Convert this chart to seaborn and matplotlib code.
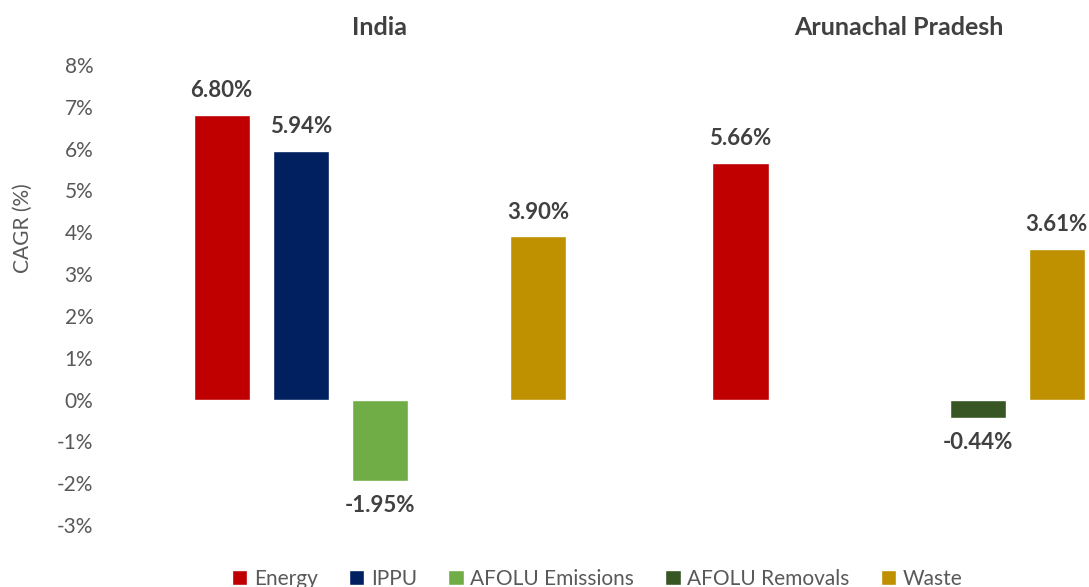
import numpy as np
import pandas as pd
import matplotlib.pyplot as plt
import seaborn as sns

# CAGR values (%); None = no bar
regions = ['India', 'Arunachal Pradesh']
sectors = ['Energy', 'IPPU', 'AFOLU Emissions', 'AFOLU Removals', 'Waste']
india = [6.80, 5.94, -1.95, None, 3.90]
arunachal = [5.66, None, None, -0.44, 3.61]
yticks = [-3, -2, -1, 0, 1, 2, 3, 4, 5, 6, 7, 8]

palette = {'Energy': '#C00000', 'IPPU': '#002060', 'AFOLU Emissions': '#70AD47',
           'AFOLU Removals': '#375623', 'Waste': '#BF9000'}

rows = []
for reg, vals in zip(regions, [india, arunachal]):
    for s, v in zip(sectors, vals):
        rows.append({'Region': reg, 'Sector': s, 'CAGR': v})
df = pd.DataFrame(rows).dropna()

sns.set_style('white')
plt.rcParams['font.family'] = ['Lato', 'DejaVu Sans']

fig = plt.figure(figsize=(10.89, 5.87), dpi=100)
W, H = 1089, 587
ax = fig.add_axes([110 / W, 1 - 525 / H, (W - 110) / W, (525 - 65) / H])

sns.barplot(data=df, x='Region', y='CAGR', hue='Sector', order=regions,
            hue_order=sectors, palette=palette, width=0.762, gap=0.29,
            errorbar=None, ax=ax, saturation=1)

# bar labels
for c in ax.containers:
    ax.bar_label(c, fmt='%.2f%%', padding=10, fontsize=16, fontweight='bold',
                 color='#404040')

ax.set_ylim(-3, 8)
ax.set_xlim(-0.52, 1.367)
ax.set_yticks(yticks)
ax.set_yticklabels([f'{t}%' for t in yticks])
ax.tick_params(axis='y', length=0, labelsize=15, labelcolor='#595959', pad=12)

# region names on top
ax.xaxis.tick_top()
ax.tick_params(axis='x', length=0, labelsize=18, labelcolor='#404040', pad=19)
for lab in ax.get_xticklabels():
    lab.set_fontweight('bold')
ax.set_xlabel('')

ax.set_ylabel('CAGR (%)', fontsize=15, color='#595959')
ax.yaxis.set_label_coords(-0.079, 0.646)

for sp in ax.spines.values():
    sp.set_visible(False)

handles, labels = ax.get_legend_handles_labels()
ax.legend(handles, labels, loc='center', bbox_to_anchor=(597 / W, 1 - 579 / H),
          bbox_transform=fig.transFigure, ncol=5, frameon=False, fontsize=15,
          handlelength=0.75, handleheight=0.75, handletextpad=0.3,
          columnspacing=1.5, labelcolor='#595959', borderpad=0)

fig.savefig('out.png', dpi=100)
